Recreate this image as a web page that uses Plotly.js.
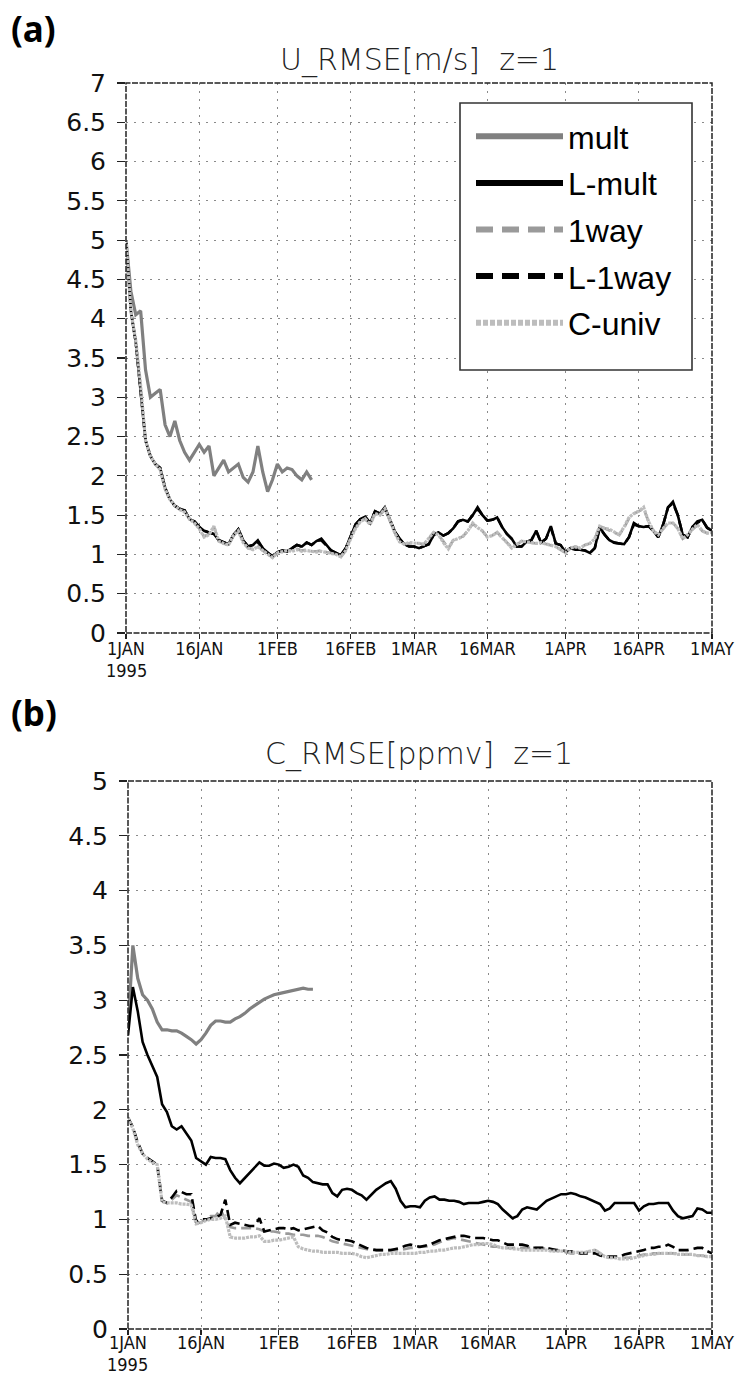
<!DOCTYPE html>
<html>
<head>
<meta charset="utf-8">
<script src="https://cdn.plot.ly/plotly-3.0.1.min.js"></script>
<style>html,body{margin:0;padding:0;background:#fff;}#chart{width:737px;height:1376px;}</style>
</head>
<body>
<div id="chart"></div>
<script>
// ---------------- DATA ----------------
const seriesNames = ['mult', 'L-mult', '1way', 'L-1way', 'C-univ'];
const startDate = '1995-01-01';
const tickDates = ['1995-01-01','1995-01-16','1995-02-01','1995-02-16','1995-03-01','1995-03-16','1995-04-01','1995-04-16','1995-05-01'];
const tickLabels = ['1JAN','16JAN','1FEB','16FEB','1MAR','16MAR','1APR','16APR','1MAY'];
const yearLabel = '1995';
const panelTitles = ['U_RMSE[m/s]  z=1', 'C_RMSE[ppmv]  z=1'];
const panelLabels = ['(a)', '(b)'];

// Panel (a): U RMSE, daily values from 1 Jan 1995
const u_mult = [5.0,4.35,4.05,4.1,3.35,3.0,3.05,3.1,2.65,2.5,2.7,2.45,2.3,2.2,2.3,2.4,2.3,2.38,2.0,2.1,
  2.2,2.05,2.1,2.15,1.98,1.92,2.05,2.38,2.05,1.8,1.95,2.15,2.05,2.1,2.08,2.0,1.95,2.05,1.95];
const u_Lmult = [5.0,4.1,3.7,3.1,2.45,2.25,2.15,2.1,1.85,1.7,1.62,1.58,1.56,1.45,1.42,1.35,1.3,1.28,1.26,1.18,
  1.15,1.13,1.25,1.32,1.18,1.1,1.12,1.18,1.08,1.02,0.97,1.03,1.05,1.04,1.08,1.12,1.1,1.15,1.12,1.17,
  1.2,1.12,1.05,1.02,0.99,1.08,1.24,1.38,1.45,1.48,1.4,1.55,1.52,1.6,1.45,1.3,1.2,1.13,1.1,1.1,
  1.08,1.1,1.13,1.25,1.28,1.24,1.27,1.33,1.42,1.44,1.42,1.5,1.6,1.5,1.43,1.44,1.47,1.35,1.26,1.2,
  1.1,1.1,1.16,1.18,1.3,1.15,1.2,1.36,1.14,1.12,1.03,1.08,1.06,1.06,1.05,1.02,1.08,1.35,1.25,1.18,
  1.15,1.14,1.13,1.22,1.4,1.36,1.35,1.36,1.3,1.22,1.38,1.6,1.67,1.5,1.25,1.22,1.35,1.42,1.44,1.34,1.3];
const u_1way = [5.0,4.1,3.7,3.12,2.45,2.26,2.15,2.08,1.84,1.7,1.62,1.57,1.55,1.45,1.4,1.33,1.23,1.26,1.35,1.17,
  1.14,1.12,1.24,1.3,1.16,1.08,1.07,1.11,1.05,1.0,0.96,1.02,1.03,1.05,1.05,1.07,1.05,1.06,1.04,1.04,
  1.05,1.03,1.02,1.0,0.97,1.05,1.21,1.34,1.42,1.46,1.38,1.52,1.5,1.58,1.44,1.28,1.17,1.13,1.14,1.15,
  1.14,1.13,1.2,1.28,1.25,1.16,1.08,1.18,1.21,1.23,1.3,1.39,1.34,1.3,1.22,1.24,1.28,1.22,1.15,1.09,
  1.12,1.17,1.16,1.15,1.14,1.15,1.13,1.12,1.1,1.06,1.02,1.08,1.1,1.08,1.12,1.14,1.2,1.36,1.33,1.31,
  1.28,1.25,1.34,1.46,1.52,1.55,1.58,1.42,1.3,1.25,1.33,1.4,1.4,1.33,1.2,1.25,1.32,1.37,1.3,1.27,1.28];
const u_L1way = [5.0,4.1,3.7,3.1,2.45,2.25,2.15,2.1,1.85,1.7,1.62,1.58,1.56,1.45,1.42,1.35,1.3,1.28,1.26,1.18,
  1.15,1.13,1.24,1.32,1.18,1.1,1.12,1.16,1.08,1.02,0.98,1.03,1.05,1.04,1.08,1.12,1.1,1.15,1.12,1.17,
  1.18,1.12,1.05,1.02,0.99,1.08,1.24,1.38,1.45,1.47,1.4,1.55,1.52,1.58,1.45,1.3,1.2,1.13,1.1,1.1,
  1.08,1.1,1.13,1.25,1.28,1.24,1.27,1.33,1.42,1.44,1.42,1.5,1.58,1.5,1.43,1.44,1.47,1.35,1.26,1.2,
  1.1,1.1,1.16,1.18,1.3,1.15,1.2,1.34,1.14,1.12,1.03,1.08,1.06,1.06,1.05,1.02,1.08,1.33,1.25,1.18,
  1.15,1.14,1.13,1.22,1.38,1.36,1.35,1.36,1.3,1.22,1.38,1.6,1.65,1.5,1.25,1.22,1.35,1.4,1.44,1.34,1.3];
const u_Cuniv = [5.0,4.1,3.72,3.15,2.45,2.25,2.15,2.08,1.83,1.7,1.62,1.57,1.54,1.45,1.4,1.33,1.22,1.25,1.36,1.17,
  1.14,1.12,1.24,1.3,1.15,1.08,1.06,1.1,1.05,1.0,0.96,1.02,1.03,1.05,1.04,1.06,1.04,1.05,1.04,1.03,
  1.04,1.03,1.02,1.0,0.97,1.05,1.2,1.33,1.42,1.45,1.38,1.52,1.5,1.58,1.45,1.28,1.16,1.13,1.15,1.15,
  1.14,1.13,1.2,1.28,1.25,1.15,1.07,1.18,1.2,1.23,1.3,1.4,1.34,1.3,1.22,1.24,1.28,1.22,1.15,1.08,
  1.12,1.17,1.16,1.15,1.14,1.15,1.13,1.12,1.1,1.06,1.02,1.08,1.1,1.08,1.12,1.14,1.2,1.36,1.33,1.32,
  1.28,1.25,1.35,1.47,1.52,1.55,1.6,1.42,1.3,1.25,1.33,1.4,1.4,1.33,1.2,1.25,1.32,1.38,1.3,1.27,1.28];

// Panel (b): C RMSE, daily values from 1 Jan 1995
const c_mult = [2.75,3.5,3.2,3.05,3.0,2.92,2.8,2.73,2.73,2.72,2.72,2.7,2.67,2.64,2.6,2.64,2.7,2.77,2.81,2.81,
  2.8,2.8,2.83,2.85,2.88,2.92,2.95,2.98,3.01,3.03,3.05,3.06,3.07,3.08,3.09,3.1,3.11,3.1,3.1];
const c_Lmult = [2.68,3.12,2.9,2.62,2.5,2.4,2.3,2.05,1.98,1.85,1.82,1.85,1.78,1.72,1.56,1.53,1.5,1.57,1.56,1.56,
  1.55,1.45,1.38,1.33,1.38,1.42,1.47,1.52,1.49,1.49,1.51,1.5,1.47,1.48,1.5,1.48,1.4,1.38,1.34,1.33,
  1.32,1.32,1.24,1.21,1.27,1.28,1.27,1.24,1.22,1.18,1.23,1.27,1.3,1.33,1.35,1.28,1.17,1.11,1.12,1.12,
  1.11,1.17,1.2,1.21,1.18,1.18,1.17,1.17,1.16,1.14,1.15,1.15,1.15,1.16,1.17,1.16,1.14,1.09,1.05,1.01,
  1.03,1.09,1.11,1.1,1.09,1.13,1.17,1.19,1.21,1.23,1.23,1.24,1.23,1.21,1.2,1.18,1.16,1.14,1.08,1.1,
  1.15,1.15,1.15,1.15,1.15,1.08,1.12,1.14,1.14,1.15,1.15,1.15,1.08,1.03,1.01,1.02,1.03,1.1,1.09,1.06,1.06];
const c_1way = [1.93,1.84,1.7,1.6,1.56,1.53,1.5,1.17,1.15,1.18,1.22,1.2,1.18,1.16,0.97,0.97,1.01,1.03,1.03,1.09,
  1.0,0.93,0.92,0.92,0.92,0.92,0.92,0.91,0.89,0.89,0.89,0.88,0.87,0.87,0.86,0.86,0.86,0.85,0.85,0.85,
  0.84,0.82,0.8,0.79,0.78,0.77,0.76,0.75,0.74,0.73,0.72,0.72,0.72,0.72,0.72,0.72,0.72,0.73,0.74,0.74,
  0.75,0.75,0.76,0.77,0.79,0.81,0.82,0.83,0.82,0.81,0.8,0.79,0.78,0.77,0.76,0.75,0.75,0.74,0.74,0.74,
  0.74,0.74,0.74,0.74,0.74,0.74,0.73,0.72,0.72,0.71,0.7,0.69,0.69,0.69,0.7,0.71,0.72,0.69,0.66,0.65,
  0.65,0.65,0.65,0.65,0.66,0.67,0.68,0.68,0.69,0.69,0.69,0.69,0.69,0.69,0.68,0.68,0.68,0.67,0.67,0.66,0.66];
const c_L1way = [1.93,1.84,1.7,1.6,1.56,1.53,1.5,1.17,1.15,1.2,1.26,1.25,1.23,1.23,0.98,1.0,1.0,1.01,1.02,1.04,
  1.18,0.95,0.97,0.96,0.95,0.94,0.94,1.01,0.89,0.9,0.91,0.92,0.92,0.91,0.92,0.9,0.91,0.92,0.93,0.94,
  0.9,0.88,0.84,0.82,0.81,0.81,0.8,0.78,0.76,0.74,0.73,0.72,0.72,0.72,0.72,0.73,0.74,0.76,0.77,0.76,
  0.75,0.76,0.77,0.79,0.81,0.82,0.83,0.84,0.85,0.85,0.84,0.83,0.83,0.83,0.82,0.81,0.81,0.79,0.77,0.77,
  0.77,0.77,0.76,0.74,0.74,0.74,0.74,0.73,0.72,0.72,0.71,0.71,0.7,0.69,0.69,0.69,0.69,0.67,0.66,0.66,
  0.66,0.66,0.68,0.69,0.7,0.71,0.72,0.74,0.74,0.75,0.75,0.77,0.75,0.72,0.72,0.72,0.73,0.74,0.74,0.71,0.69];
const c_Cuniv = [1.93,1.83,1.68,1.6,1.55,1.52,1.5,1.16,1.15,1.15,1.15,1.14,1.14,1.13,0.96,0.97,0.99,1.0,1.0,1.01,
  1.03,0.84,0.83,0.83,0.83,0.84,0.84,0.85,0.8,0.8,0.81,0.81,0.82,0.83,0.84,0.75,0.73,0.72,0.71,0.71,
  0.7,0.7,0.7,0.7,0.69,0.69,0.69,0.68,0.66,0.65,0.66,0.67,0.68,0.68,0.69,0.69,0.69,0.69,0.69,0.69,
  0.7,0.7,0.71,0.71,0.72,0.72,0.73,0.74,0.74,0.75,0.76,0.77,0.77,0.78,0.78,0.77,0.75,0.74,0.74,0.73,
  0.73,0.72,0.72,0.72,0.72,0.72,0.72,0.71,0.71,0.71,0.71,0.7,0.7,0.7,0.7,0.71,0.72,0.69,0.66,0.65,
  0.65,0.64,0.64,0.64,0.65,0.66,0.67,0.68,0.68,0.69,0.69,0.69,0.69,0.68,0.68,0.68,0.68,0.67,0.67,0.66,0.66];

// ---------------- BUILD ----------------
function datesFor(n) {
  const out = [];
  const t0 = Date.parse(startDate + 'T00:00:00Z');
  for (let i = 0; i < n; i++) out.push(new Date(t0 + i * 86400000).toISOString().slice(0, 10));
  return out;
}

const colors = ['#808080', '#000000', '#9a9a9a', '#000000', '#bdbdbd'];
const plotStyles = [
  {color: colors[0], width: 3.2, dash: 'solid'},
  {color: colors[1], width: 2.6, dash: 'solid'},
  {color: colors[2], width: 2.6, dash: '10px,5px'},
  {color: colors[3], width: 2.6, dash: '10px,5px'},
  {color: colors[4], width: 3.2, dash: '3px,1px'}
];
const legendStyles = [
  {color: colors[0], width: 6, dash: 'solid'},
  {color: colors[1], width: 6, dash: 'solid'},
  {color: colors[2], width: 6, dash: '17px,9px'},
  {color: colors[3], width: 6, dash: '17px,9px'},
  {color: colors[4], width: 6, dash: '5px,2px'}
];

const topSeries = [u_mult, u_Lmult, u_1way, u_L1way, u_Cuniv];
const botSeries = [c_mult, c_Lmult, c_1way, c_L1way, c_Cuniv];

const traces = [];
topSeries.forEach((ys, i) => {
  traces.push({
    type: 'scatter', mode: 'lines', name: seriesNames[i],
    x: datesFor(ys.length), y: ys, xaxis: 'x', yaxis: 'y',
    line: plotStyles[i], legendgroup: 'g' + i, showlegend: false, hoverinfo: 'skip'
  });
});
botSeries.forEach((ys, i) => {
  traces.push({
    type: 'scatter', mode: 'lines', name: seriesNames[i],
    x: datesFor(ys.length), y: ys, xaxis: 'x2', yaxis: 'y2',
    line: plotStyles[i], legendgroup: 'g' + i, showlegend: false, hoverinfo: 'skip'
  });
});
// legend entries (thick key lines, as in the original key box)
seriesNames.forEach((nm, i) => {
  traces.push({
    type: 'scatter', mode: 'lines', name: nm, x: [null], y: [null], xaxis: 'x', yaxis: 'y',
    line: legendStyles[i], legendgroup: 'g' + i, showlegend: true, hoverinfo: 'skip'
  });
});

const W = 737, H = 1376;
const px = v => v / W, py = v => 1 - v / H;

const tickFontY = {family: 'DejaVu Sans, sans-serif', size: 25, color: '#111'};
const tickFontX = {family: 'DejaVu Sans Condensed, DejaVu Sans, sans-serif', size: 18, color: '#111'};

function xAxis(domain, anchor, standoff) {
  return {
    type: 'date', domain: domain, anchor: anchor,
    range: ['1995-01-01', '1995-05-01'],
    tickmode: 'array', tickvals: tickDates, ticktext: tickLabels,
    ticks: 'outside', ticklen: 5, tickcolor: '#222', tickwidth: 1.2,
    showgrid: true, gridcolor: '#8a8a8a', gridwidth: 1, griddash: '2px,6px',
    showline: false, zeroline: false, tickfont: tickFontX, ticklabelstandoff: standoff, fixedrange: true
  };
}
function yAxis(domain, anchor, maxV) {
  return {
    domain: domain, anchor: anchor, range: [0, maxV], dtick: 0.5, tick0: 0,
    ticks: 'outside', ticklen: 8, tickcolor: '#222', tickwidth: 1.2,
    showgrid: true, gridcolor: '#8a8a8a', gridwidth: 1, griddash: '2px,6px',
    showline: false, zeroline: false, tickfont: tickFontY, ticklabelstandoff: 6, fixedrange: true
  };
}

const frame = (xr, yr) => ({
  type: 'rect', xref: xr + ' domain', yref: yr + ' domain', x0: 0, x1: 1, y0: 0, y1: 1,
  line: {color: '#222', width: 1.5, dash: '6px,1.5px'}, layer: 'above'
});
// key box outline (behind the legend entries)
const keyBox = {
  type: 'rect', xref: 'paper', yref: 'paper', x0: px(460), x1: px(692), y0: py(370), y1: py(103),
  fillcolor: '#fff', line: {color: '#333', width: 1.6}, layer: 'above'
};

const yearAnno = (xr, yPix) => ({
  text: yearLabel, xref: xr, yref: 'paper', x: tickDates[0], y: py(yPix), xanchor: 'center', yanchor: 'bottom',
  showarrow: false, borderpad: 0, font: tickFontX
});

const layout = {
  width: W, height: H,
  margin: {l: 0, r: 0, t: 0, b: 0},
  paper_bgcolor: '#fff', plot_bgcolor: '#fff',
  showlegend: true,
  xaxis: xAxis([px(126), px(712)], 'y', -6),
  yaxis: yAxis([py(633), py(83)], 'x', 7),
  xaxis2: xAxis([px(128), px(712)], 'y2', -8),
  yaxis2: yAxis([py(1329), py(781)], 'x2', 5),
  legend: {
    x: px(471), y: py(109), xanchor: 'left', yanchor: 'top',
    bgcolor: 'rgba(0,0,0,0)', borderwidth: 0,
    font: {family: 'Liberation Sans, Arial, sans-serif', size: 32, color: '#000'},
    itemwidth: 87, tracegroupgap: 2, traceorder: 'grouped'
  },
  shapes: [frame('x', 'y'), frame('x2', 'y2'), keyBox],
  annotations: [
    {text: panelTitles[0], xref: 'paper', yref: 'paper', x: px(419), y: py(60), xanchor: 'center', yanchor: 'middle',
     showarrow: false, font: {family: 'DejaVu Sans, sans-serif', size: 30, weight: 200, color: '#222'}},
    {text: panelTitles[1], xref: 'paper', yref: 'paper', x: px(419), y: py(754), xanchor: 'center', yanchor: 'middle',
     showarrow: false, font: {family: 'DejaVu Sans, sans-serif', size: 30, weight: 200, color: '#222'}},
    {text: '<b>' + panelLabels[0] + '</b>', xref: 'paper', yref: 'paper', x: px(9), y: py(29), xanchor: 'left', yanchor: 'middle',
     showarrow: false, font: {family: 'Noto Sans, sans-serif', size: 35, color: '#000'}},
    {text: '<b>' + panelLabels[1] + '</b>', xref: 'paper', yref: 'paper', x: px(9), y: py(712), xanchor: 'left', yanchor: 'middle',
     showarrow: false, font: {family: 'Noto Sans, sans-serif', size: 35, color: '#000'}},
    yearAnno('x', 682),
    yearAnno('x2', 1376)
  ]
};

Plotly.newPlot('chart', traces, layout, {displayModeBar: false, staticPlot: true});
</script>
</body>
</html>
